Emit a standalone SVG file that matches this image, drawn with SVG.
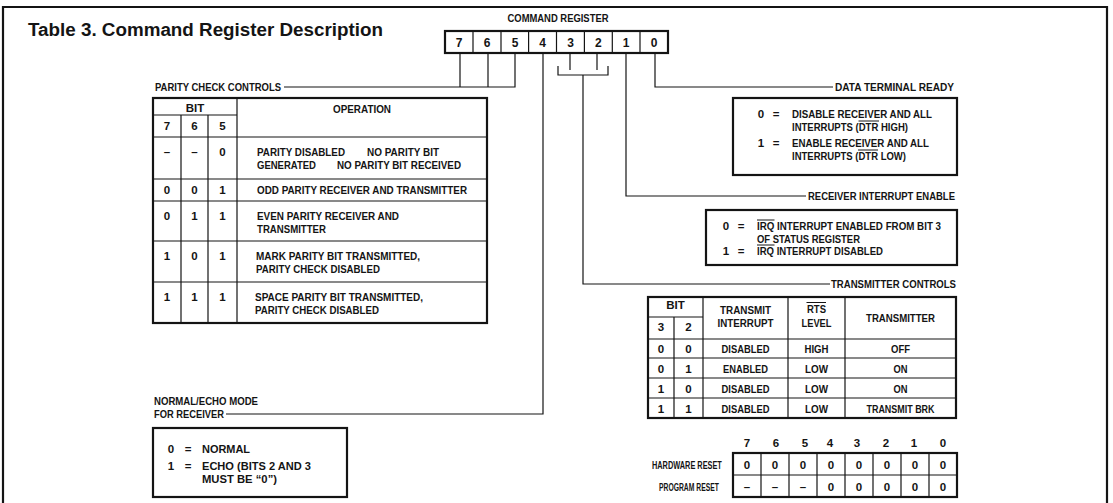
<svg xmlns="http://www.w3.org/2000/svg" width="1113" height="503" viewBox="0 0 1113 503">
  <style>
    .t { font-family: "Liberation Sans", Arial, Helvetica, sans-serif; font-weight: bold; font-size: 11.5px; fill: #141414; }
    .c { text-anchor: middle; }
    .title { font-family: "Liberation Sans", Arial, Helvetica, sans-serif; font-weight: bold; font-size: 18px; fill: #141414; }
    .frame { fill: none; stroke: #141414; stroke-width: 2.2; }
    .thick { fill: none; stroke: #141414; stroke-width: 2.2; }
    .thin { fill: none; stroke: #141414; stroke-width: 1.2; }
    .wire { fill: none; stroke: #141414; stroke-width: 1.2; }
    .bar { stroke: #141414; stroke-width: 1; }
  </style>

  <rect width="1113" height="503" fill="#ffffff"/>

  <!-- page frame -->
  <path class="frame" d="M3 512V7H1107V512"/>

  <text class="title" x="28" y="36" textLength="355" lengthAdjust="spacingAndGlyphs">Table 3. Command Register Description</text>

  <!-- command register bit strip -->
  <g id="command-register">
    <text class="t c" x="558" y="22" textLength="101" lengthAdjust="spacingAndGlyphs">COMMAND REGISTER</text>
    <rect class="thick" x="445" y="31" width="223" height="22"/>
    <path class="thin" d="M473 31V53M501 31V53M528.6 31V53M556.5 31V53M584.4 31V53M612.3 31V53M640 31V53"/>
    <g class="t c" style="font-size:12px">
      <text x="459" y="47">7</text>
      <text x="487" y="47">6</text>
      <text x="515" y="47">5</text>
      <text x="542.6" y="47">4</text>
      <text x="570.5" y="47">3</text>
      <text x="598.4" y="47">2</text>
      <text x="626.2" y="47">1</text>
      <text x="654" y="47">0</text>
    </g>
  </g>

  <!-- leader lines from the register bits to each description -->
  <g id="connectors">
    <!-- bits 7,6,5 : parity check controls -->
    <path class="wire" d="M460 53V87M488 53V87M515 53V87H284"/>
    <!-- bit 4 : normal/echo mode -->
    <path class="wire" d="M543 53V414H226"/>
    <!-- bits 3,2 : transmitter controls -->
    <path class="wire" d="M570 53V70M597 53V70"/>
    <path class="wire" d="M558 66V75H608V66"/>
    <path class="wire" d="M583 75V284H830"/>
    <!-- bit 1 : receiver interrupt enable -->
    <path class="wire" d="M626 53V196H806"/>
    <!-- bit 0 : data terminal ready -->
    <path class="wire" d="M655 53V87H833"/>
  </g>

  <!-- parity check controls table -->
  <g id="parity-check-controls">
    <text class="t" x="155" y="91" textLength="126" lengthAdjust="spacingAndGlyphs">PARITY CHECK CONTROLS</text>
    <rect class="thick" x="153" y="98" width="334" height="225"/>
    <path class="thin" d="M181 115V323M208 115V323M237 98V323M153 115H237M153 137H487M153 179H487M153 201H487M153 241H487M153 282H487"/>
    <text class="t c" x="195" y="112">BIT</text>
    <text class="t c" x="362" y="113" textLength="58" lengthAdjust="spacingAndGlyphs">OPERATION</text>
    <text class="t c" x="167" y="130">7</text>
    <text class="t c" x="194.5" y="130">6</text>
    <text class="t c" x="222.5" y="130">5</text>

    <text class="t c" x="167" y="156">–</text>
    <text class="t c" x="194.5" y="156">–</text>
    <text class="t c" x="222.5" y="156">0</text>
    <text class="t" x="257" y="156" textLength="88" lengthAdjust="spacingAndGlyphs">PARITY DISABLED</text>
    <text class="t" x="367" y="156" textLength="72" lengthAdjust="spacingAndGlyphs">NO PARITY BIT</text>
    <text class="t" x="257" y="168.5" textLength="59" lengthAdjust="spacingAndGlyphs">GENERATED</text>
    <text class="t" x="337" y="168.5" textLength="124" lengthAdjust="spacingAndGlyphs">NO PARITY BIT RECEIVED</text>

    <text class="t c" x="167" y="194">0</text>
    <text class="t c" x="194.5" y="194">0</text>
    <text class="t c" x="222.5" y="194">1</text>
    <text class="t" x="257" y="194" textLength="210" lengthAdjust="spacingAndGlyphs">ODD PARITY RECEIVER AND TRANSMITTER</text>

    <text class="t c" x="167" y="219.5">0</text>
    <text class="t c" x="194.5" y="219.5">1</text>
    <text class="t c" x="222.5" y="219.5">1</text>
    <text class="t" x="257" y="219.5" textLength="142" lengthAdjust="spacingAndGlyphs">EVEN PARITY RECEIVER AND</text>
    <text class="t" x="257" y="232.5" textLength="69" lengthAdjust="spacingAndGlyphs">TRANSMITTER</text>

    <text class="t c" x="167" y="259.5">1</text>
    <text class="t c" x="194.5" y="259.5">0</text>
    <text class="t c" x="222.5" y="259.5">1</text>
    <text class="t" x="256" y="259.5" textLength="164" lengthAdjust="spacingAndGlyphs">MARK PARITY BIT TRANSMITTED,</text>
    <text class="t" x="256" y="272.5" textLength="124" lengthAdjust="spacingAndGlyphs">PARITY CHECK DISABLED</text>

    <text class="t c" x="167" y="300.5">1</text>
    <text class="t c" x="194.5" y="300.5">1</text>
    <text class="t c" x="222.5" y="300.5">1</text>
    <text class="t" x="255" y="300.5" textLength="168" lengthAdjust="spacingAndGlyphs">SPACE PARITY BIT TRANSMITTED,</text>
    <text class="t" x="255" y="313.5" textLength="124" lengthAdjust="spacingAndGlyphs">PARITY CHECK DISABLED</text>
  </g>

  <!-- normal / echo mode -->
  <g id="normal-echo-mode">
    <text class="t" x="154" y="405" textLength="104" lengthAdjust="spacingAndGlyphs">NORMAL/ECHO MODE</text>
    <text class="t" x="154" y="417.5" textLength="70" lengthAdjust="spacingAndGlyphs">FOR RECEIVER</text>
    <rect class="thick" x="153" y="428" width="194" height="69"/>
    <text class="t c" x="171" y="453">0</text>
    <text class="t c" x="188" y="453">=</text>
    <text class="t" x="202" y="453" textLength="48" lengthAdjust="spacingAndGlyphs">NORMAL</text>
    <text class="t c" x="171" y="470">1</text>
    <text class="t c" x="188" y="470">=</text>
    <text class="t" x="202" y="470" textLength="109" lengthAdjust="spacingAndGlyphs">ECHO (BITS 2 AND 3</text>
    <text class="t" x="202" y="482.5" textLength="75" lengthAdjust="spacingAndGlyphs">MUST BE “0”)</text>
  </g>

  <!-- data terminal ready -->
  <g id="data-terminal-ready">
    <text class="t" x="835" y="91" textLength="119" lengthAdjust="spacingAndGlyphs">DATA TERMINAL READY</text>
    <rect class="thick" x="733" y="98" width="224" height="77"/>
    <text class="t c" x="761" y="118">0</text>
    <text class="t c" x="776" y="118">=</text>
    <text class="t" x="792" y="118" textLength="140" lengthAdjust="spacingAndGlyphs">DISABLE RECEIVER AND ALL</text>
    <text class="t" x="792" y="131" textLength="116" lengthAdjust="spacingAndGlyphs">INTERRUPTS (DTR HIGH)</text>
    <line class="bar" x1="858.5" y1="121" x2="879" y2="121"/>
    <text class="t c" x="761" y="147">1</text>
    <text class="t c" x="776" y="147">=</text>
    <text class="t" x="792" y="147" textLength="137" lengthAdjust="spacingAndGlyphs">ENABLE RECEIVER AND ALL</text>
    <text class="t" x="792" y="160" textLength="114" lengthAdjust="spacingAndGlyphs">INTERRUPTS (DTR LOW)</text>
    <line class="bar" x1="858" y1="150" x2="878" y2="150"/>
  </g>

  <!-- receiver interrupt enable -->
  <g id="receiver-interrupt-enable">
    <text class="t" x="808" y="200" textLength="147" lengthAdjust="spacingAndGlyphs">RECEIVER INTERRUPT ENABLE</text>
    <rect class="thick" x="706" y="210" width="251" height="55"/>
    <text class="t c" x="726" y="230">0</text>
    <text class="t c" x="741" y="230">=</text>
    <text class="t" x="757" y="230" textLength="184" lengthAdjust="spacingAndGlyphs">IRQ INTERRUPT ENABLED FROM BIT 3</text>
    <line class="bar" x1="757" y1="220" x2="774.5" y2="220"/>
    <text class="t" x="757" y="242.5" textLength="103" lengthAdjust="spacingAndGlyphs">OF STATUS REGISTER</text>
    <text class="t c" x="726" y="255">1</text>
    <text class="t c" x="741" y="255">=</text>
    <text class="t" x="757" y="255" textLength="126" lengthAdjust="spacingAndGlyphs">IRQ INTERRUPT DISABLED</text>
    <line class="bar" x1="757" y1="245" x2="774.5" y2="245"/>
  </g>

  <!-- transmitter controls table -->
  <g id="transmitter-controls">
    <text class="t" x="831" y="288" textLength="125" lengthAdjust="spacingAndGlyphs">TRANSMITTER CONTROLS</text>
    <rect class="thick" x="648" y="297" width="308" height="121"/>
    <path class="thin" d="M674 317V418M703 297V418M788 297V418M845 297V418M648 317H703M648 339H956M648 358H956M648 378H956M648 398H956"/>
    <text class="t c" x="675.5" y="308.5">BIT</text>
    <text class="t c" x="661" y="330.5">3</text>
    <text class="t c" x="688.5" y="330.5">2</text>
    <text class="t c" x="745.5" y="314" textLength="51" lengthAdjust="spacingAndGlyphs">TRANSMIT</text>
    <text class="t c" x="745.5" y="326.5" textLength="56" lengthAdjust="spacingAndGlyphs">INTERRUPT</text>
    <text class="t c" x="816.5" y="312.5" textLength="19" lengthAdjust="spacingAndGlyphs">RTS</text>
    <line class="bar" x1="806.5" y1="302.5" x2="826" y2="302.5"/>
    <text class="t c" x="816.5" y="326.5" textLength="30" lengthAdjust="spacingAndGlyphs">LEVEL</text>
    <text class="t c" x="900.5" y="321.5" textLength="69" lengthAdjust="spacingAndGlyphs">TRANSMITTER</text>

    <text class="t c" x="661" y="352.5">0</text>
    <text class="t c" x="688.5" y="352.5">0</text>
    <text class="t c" x="745.5" y="352.5" textLength="48" lengthAdjust="spacingAndGlyphs">DISABLED</text>
    <text class="t c" x="816.5" y="352.5" textLength="24" lengthAdjust="spacingAndGlyphs">HIGH</text>
    <text class="t c" x="900.5" y="352.5" textLength="19" lengthAdjust="spacingAndGlyphs">OFF</text>

    <text class="t c" x="661" y="372.5">0</text>
    <text class="t c" x="688.5" y="372.5">1</text>
    <text class="t c" x="745.5" y="372.5" textLength="45" lengthAdjust="spacingAndGlyphs">ENABLED</text>
    <text class="t c" x="816.5" y="372.5" textLength="23" lengthAdjust="spacingAndGlyphs">LOW</text>
    <text class="t c" x="900.5" y="372.5" textLength="14" lengthAdjust="spacingAndGlyphs">ON</text>

    <text class="t c" x="661" y="392.5">1</text>
    <text class="t c" x="688.5" y="392.5">0</text>
    <text class="t c" x="745.5" y="392.5" textLength="48" lengthAdjust="spacingAndGlyphs">DISABLED</text>
    <text class="t c" x="816.5" y="392.5" textLength="23" lengthAdjust="spacingAndGlyphs">LOW</text>
    <text class="t c" x="900.5" y="392.5" textLength="14" lengthAdjust="spacingAndGlyphs">ON</text>

    <text class="t c" x="661" y="412.5">1</text>
    <text class="t c" x="688.5" y="412.5">1</text>
    <text class="t c" x="745.5" y="412.5" textLength="48" lengthAdjust="spacingAndGlyphs">DISABLED</text>
    <text class="t c" x="816.5" y="412.5" textLength="23" lengthAdjust="spacingAndGlyphs">LOW</text>
    <text class="t c" x="900.5" y="412.5" textLength="68" lengthAdjust="spacingAndGlyphs">TRANSMIT BRK</text>
  </g>

  <!-- reset states -->
  <g id="reset-states">
    <g class="t c">
      <text x="747" y="447">7</text>
      <text x="776" y="447">6</text>
      <text x="805" y="447">5</text>
      <text x="830" y="447">4</text>
      <text x="857" y="447">3</text>
      <text x="886" y="447">2</text>
      <text x="914" y="447">1</text>
      <text x="943" y="447">0</text>
    </g>
    <!-- row labels, horizontally condensed to fit left of the grid -->
    <text class="t" transform="translate(652 469) scale(0.64 1)">HARDWARE RESET</text>
    <text class="t" transform="translate(659 490.5) scale(0.59 1)">PROGRAM RESET</text>
    <rect class="thick" x="733" y="453" width="224" height="44"/>
    <path class="thin" d="M761 453V497M789 453V497M817 453V497M845 453V497M873 453V497M901 453V497M929 453V497M733 475H957"/>
    <g class="t c">
      <text x="747" y="469">0</text>
      <text x="775" y="469">0</text>
      <text x="803" y="469">0</text>
      <text x="831" y="469">0</text>
      <text x="859" y="469">0</text>
      <text x="887" y="469">0</text>
      <text x="915" y="469">0</text>
      <text x="943" y="469">0</text>
      <text x="747" y="490.5">–</text>
      <text x="775" y="490.5">–</text>
      <text x="803" y="490.5">–</text>
      <text x="831" y="490.5">0</text>
      <text x="859" y="490.5">0</text>
      <text x="887" y="490.5">0</text>
      <text x="915" y="490.5">0</text>
      <text x="943" y="490.5">0</text>
    </g>
  </g>
</svg>
